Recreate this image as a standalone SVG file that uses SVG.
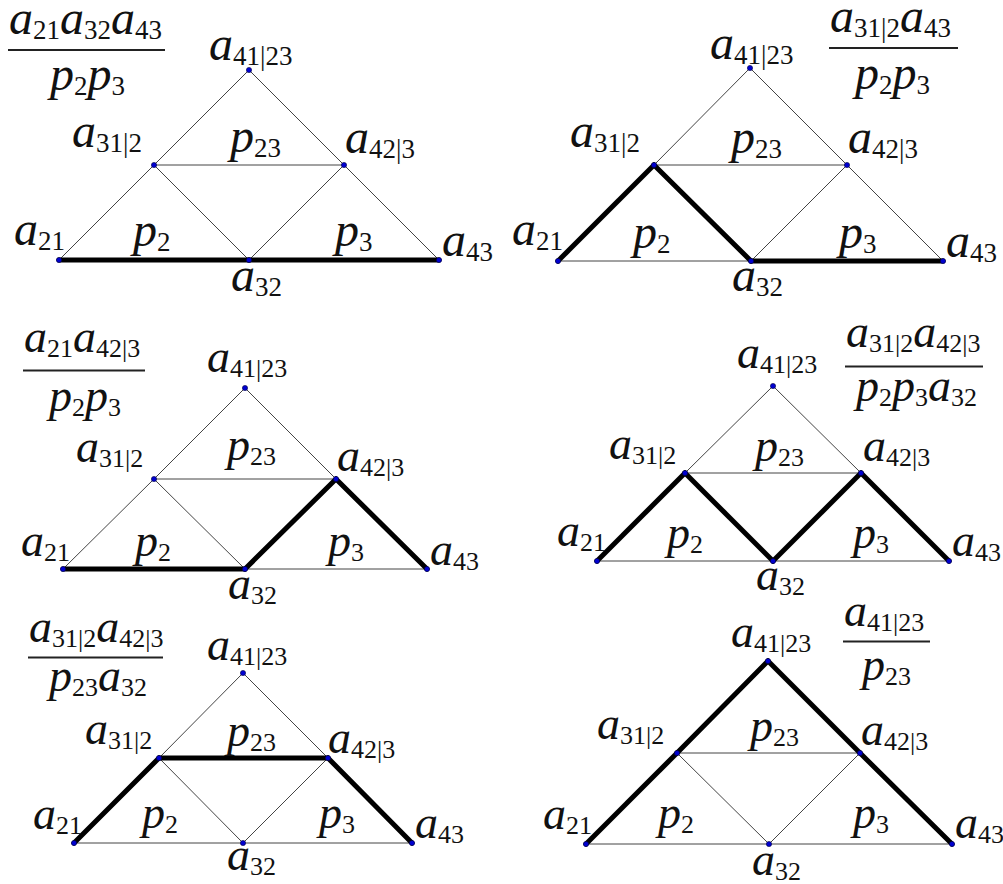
<svg xmlns="http://www.w3.org/2000/svg" width="1003" height="884" viewBox="0 0 1003 884">
<style>
text{font-family:"Liberation Serif","Times New Roman",serif;fill:#111}
.i{font-style:italic;font-size:48px}
.s{font-size:27px}
.sm .i{font-size:46px}
.sm .s{font-size:26px}
.thin{stroke:#444;stroke-width:1;fill:none}
.thick{stroke:#000;stroke-width:5;fill:none;stroke-linecap:round}
.bar{stroke:#222;stroke-width:2}
.dot{fill:#0000d0;stroke:#000040;stroke-width:0.6}
</style>
<rect width="1003" height="884" fill="#fff"/>

<!-- Panel 1 -->
<g id="panel1">
<g id="p1-connectors">
<line class="thin" x1="59" y1="260" x2="154" y2="165"/>
<line class="thin" x1="154" y1="165" x2="249" y2="70"/>
<line class="thin" x1="249" y1="70" x2="344" y2="165"/>
<line class="thin" x1="344" y1="165" x2="439" y2="260"/>
<line class="thin" x1="154" y1="165" x2="344" y2="165"/>
<line class="thin" x1="154" y1="165" x2="249" y2="260"/>
<line class="thin" x1="249" y1="260" x2="344" y2="165"/>
<line class="thick" x1="59" y1="260" x2="249" y2="260"/>
<line class="thick" x1="249" y1="260" x2="439" y2="260"/>
</g>
<g id="p1-formula">
<text x="9" y="34"><tspan class="i">a</tspan><tspan class="s" dy="5">21</tspan><tspan class="i" dy="-5">a</tspan><tspan class="s" dy="5">32</tspan><tspan class="i" dy="-5">a</tspan><tspan class="s" dy="5">43</tspan></text>
<line class="bar" x1="8" y1="50" x2="165" y2="50"/>
<text x="50" y="90"><tspan class="i">p</tspan><tspan class="s" dy="5">2</tspan><tspan class="i" dy="-5">p</tspan><tspan class="s" dy="5">3</tspan></text>
</g>
<g id="p1-a41"><circle class="dot" cx="249" cy="70" r="2.6"/><text x="209" y="60"><tspan class="i">a</tspan><tspan class="s" dy="5">41|23</tspan></text></g>
<g id="p1-a31"><circle class="dot" cx="154" cy="165" r="2.6"/><text x="72" y="147"><tspan class="i">a</tspan><tspan class="s" dy="5">31|2</tspan></text></g>
<g id="p1-a42"><circle class="dot" cx="344" cy="165" r="2.6"/><text x="345" y="153"><tspan class="i">a</tspan><tspan class="s" dy="5">42|3</tspan></text></g>
<g id="p1-a21"><circle class="dot" cx="59" cy="260" r="2.6"/><text x="14" y="245"><tspan class="i">a</tspan><tspan class="s" dy="5">21</tspan></text></g>
<g id="p1-a32"><circle class="dot" cx="249" cy="260" r="2.6"/><text x="231" y="291"><tspan class="i">a</tspan><tspan class="s" dy="5">32</tspan></text></g>
<g id="p1-a43"><circle class="dot" cx="439" cy="260" r="2.6"/><text x="442" y="256"><tspan class="i">a</tspan><tspan class="s" dy="5">43</tspan></text></g>
<g id="p1-p23"><text x="230" y="152"><tspan class="i">p</tspan><tspan class="s" dy="5">23</tspan></text></g>
<g id="p1-p2"><text x="133" y="246"><tspan class="i">p</tspan><tspan class="s" dy="5">2</tspan></text></g>
<g id="p1-p3"><text x="335" y="246"><tspan class="i">p</tspan><tspan class="s" dy="5">3</tspan></text></g>
</g>

<!-- Panel 2 -->
<g id="panel2">
<g id="p2-connectors">
<line class="thin" x1="654" y1="165" x2="750" y2="68"/>
<line class="thin" x1="750" y1="68" x2="847" y2="165"/>
<line class="thin" x1="847" y1="165" x2="943" y2="261"/>
<line class="thin" x1="654" y1="165" x2="847" y2="165"/>
<line class="thin" x1="558" y1="261" x2="751" y2="261"/>
<line class="thin" x1="751" y1="261" x2="847" y2="165"/>
<line class="thick" x1="558" y1="261" x2="654" y2="165"/>
<line class="thick" x1="654" y1="165" x2="751" y2="261"/>
<line class="thick" x1="751" y1="261" x2="943" y2="261"/>
</g>
<g id="p2-formula">
<text x="830" y="32"><tspan class="i">a</tspan><tspan class="s" dy="5">31|2</tspan><tspan class="i" dy="-5">a</tspan><tspan class="s" dy="5">43</tspan></text>
<line class="bar" x1="829" y1="48" x2="958" y2="48"/>
<text x="855" y="89"><tspan class="i">p</tspan><tspan class="s" dy="5">2</tspan><tspan class="i" dy="-5">p</tspan><tspan class="s" dy="5">3</tspan></text>
</g>
<g id="p2-a41"><circle class="dot" cx="750" cy="68" r="2.6"/><text x="710" y="59"><tspan class="i">a</tspan><tspan class="s" dy="5">41|23</tspan></text></g>
<g id="p2-a31"><circle class="dot" cx="654" cy="165" r="2.6"/><text x="570" y="147"><tspan class="i">a</tspan><tspan class="s" dy="5">31|2</tspan></text></g>
<g id="p2-a42"><circle class="dot" cx="847" cy="165" r="2.6"/><text x="848" y="153"><tspan class="i">a</tspan><tspan class="s" dy="5">42|3</tspan></text></g>
<g id="p2-a21"><circle class="dot" cx="558" cy="261" r="2.6"/><text x="512" y="245"><tspan class="i">a</tspan><tspan class="s" dy="5">21</tspan></text></g>
<g id="p2-a32"><circle class="dot" cx="751" cy="261" r="2.6"/><text x="732" y="291"><tspan class="i">a</tspan><tspan class="s" dy="5">32</tspan></text></g>
<g id="p2-a43"><circle class="dot" cx="943" cy="261" r="2.6"/><text x="946" y="257"><tspan class="i">a</tspan><tspan class="s" dy="5">43</tspan></text></g>
<g id="p2-p23"><text x="731" y="153"><tspan class="i">p</tspan><tspan class="s" dy="5">23</tspan></text></g>
<g id="p2-p2"><text x="633" y="248"><tspan class="i">p</tspan><tspan class="s" dy="5">2</tspan></text></g>
<g id="p2-p3"><text x="839" y="248"><tspan class="i">p</tspan><tspan class="s" dy="5">3</tspan></text></g>
</g>

<!-- Panel 3 -->
<g id="panel3" class="sm">
<g id="p3-connectors">
<line class="thin" x1="63" y1="569" x2="154" y2="479"/>
<line class="thin" x1="154" y1="479" x2="245" y2="388"/>
<line class="thin" x1="245" y1="388" x2="336" y2="479"/>
<line class="thin" x1="154" y1="479" x2="336" y2="479"/>
<line class="thin" x1="154" y1="479" x2="245" y2="569"/>
<line class="thin" x1="245" y1="569" x2="427" y2="569"/>
<line class="thick" x1="63" y1="569" x2="245" y2="569"/>
<line class="thick" x1="245" y1="569" x2="336" y2="479"/>
<line class="thick" x1="336" y1="479" x2="427" y2="569"/>
</g>
<g id="p3-formula">
<text x="24" y="352"><tspan class="i">a</tspan><tspan class="s" dy="5">21</tspan><tspan class="i" dy="-5">a</tspan><tspan class="s" dy="5">42|3</tspan></text>
<line class="bar" x1="23" y1="370.5" x2="145" y2="370.5"/>
<text x="49" y="411"><tspan class="i">p</tspan><tspan class="s" dy="5">2</tspan><tspan class="i" dy="-5">p</tspan><tspan class="s" dy="5">3</tspan></text>
</g>
<g id="p3-a41"><circle class="dot" cx="245" cy="388" r="2.6"/><text x="207" y="372"><tspan class="i">a</tspan><tspan class="s" dy="5">41|23</tspan></text></g>
<g id="p3-a31"><circle class="dot" cx="154" cy="479" r="2.6"/><text x="76" y="462"><tspan class="i">a</tspan><tspan class="s" dy="5">31|2</tspan></text></g>
<g id="p3-a42"><circle class="dot" cx="336" cy="479" r="2.6"/><text x="337" y="471"><tspan class="i">a</tspan><tspan class="s" dy="5">42|3</tspan></text></g>
<g id="p3-a21"><circle class="dot" cx="63" cy="569" r="2.6"/><text x="21" y="556"><tspan class="i">a</tspan><tspan class="s" dy="5">21</tspan></text></g>
<g id="p3-a32"><circle class="dot" cx="245" cy="569" r="2.6"/><text x="228" y="599"><tspan class="i">a</tspan><tspan class="s" dy="5">32</tspan></text></g>
<g id="p3-a43"><circle class="dot" cx="427" cy="569" r="2.6"/><text x="430" y="565"><tspan class="i">a</tspan><tspan class="s" dy="5">43</tspan></text></g>
<g id="p3-p23"><text x="227" y="460"><tspan class="i">p</tspan><tspan class="s" dy="5">23</tspan></text></g>
<g id="p3-p2"><text x="135" y="556"><tspan class="i">p</tspan><tspan class="s" dy="5">2</tspan></text></g>
<g id="p3-p3"><text x="328" y="556"><tspan class="i">p</tspan><tspan class="s" dy="5">3</tspan></text></g>
</g>

<!-- Panel 4 -->
<g id="panel4" class="sm">
<g id="p4-connectors">
<line class="thin" x1="685" y1="473" x2="773" y2="386"/>
<line class="thin" x1="773" y1="386" x2="861" y2="473"/>
<line class="thin" x1="685" y1="473" x2="861" y2="473"/>
<line class="thin" x1="597" y1="561" x2="949" y2="561"/>
<line class="thick" x1="597" y1="561" x2="685" y2="473"/>
<line class="thick" x1="685" y1="473" x2="773" y2="561"/>
<line class="thick" x1="773" y1="561" x2="861" y2="473"/>
<line class="thick" x1="861" y1="473" x2="949" y2="561"/>
</g>
<g id="p4-formula">
<text x="846" y="347"><tspan class="i">a</tspan><tspan class="s" dy="5">31|2</tspan><tspan class="i" dy="-5">a</tspan><tspan class="s" dy="5">42|3</tspan></text>
<line class="bar" x1="845" y1="366.5" x2="983" y2="366.5"/>
<text x="856" y="401"><tspan class="i">p</tspan><tspan class="s" dy="5">2</tspan><tspan class="i" dy="-5">p</tspan><tspan class="s" dy="5">3</tspan><tspan class="i" dy="-5">a</tspan><tspan class="s" dy="5">32</tspan></text>
</g>
<g id="p4-a41"><circle class="dot" cx="773" cy="386" r="2.6"/><text x="737" y="368"><tspan class="i">a</tspan><tspan class="s" dy="5">41|23</tspan></text></g>
<g id="p4-a31"><circle class="dot" cx="685" cy="473" r="2.6"/><text x="609" y="459"><tspan class="i">a</tspan><tspan class="s" dy="5">31|2</tspan></text></g>
<g id="p4-a42"><circle class="dot" cx="861" cy="473" r="2.6"/><text x="863" y="461"><tspan class="i">a</tspan><tspan class="s" dy="5">42|3</tspan></text></g>
<g id="p4-a21"><circle class="dot" cx="597" cy="561" r="2.6"/><text x="557" y="546"><tspan class="i">a</tspan><tspan class="s" dy="5">21</tspan></text></g>
<g id="p4-a32"><circle class="dot" cx="773" cy="561" r="2.6"/><text x="756" y="590"><tspan class="i">a</tspan><tspan class="s" dy="5">32</tspan></text></g>
<g id="p4-a43"><circle class="dot" cx="949" cy="561" r="2.6"/><text x="952" y="556"><tspan class="i">a</tspan><tspan class="s" dy="5">43</tspan></text></g>
<g id="p4-p23"><text x="755" y="461"><tspan class="i">p</tspan><tspan class="s" dy="5">23</tspan></text></g>
<g id="p4-p2"><text x="667" y="548"><tspan class="i">p</tspan><tspan class="s" dy="5">2</tspan></text></g>
<g id="p4-p3"><text x="853" y="548"><tspan class="i">p</tspan><tspan class="s" dy="5">3</tspan></text></g>
</g>

<!-- Panel 5 -->
<g id="panel5" class="sm">
<g id="p5-connectors">
<line class="thin" x1="159" y1="758" x2="243" y2="673"/>
<line class="thin" x1="243" y1="673" x2="328" y2="758"/>
<line class="thin" x1="74" y1="843" x2="412" y2="843"/>
<line class="thin" x1="159" y1="758" x2="243" y2="843"/>
<line class="thin" x1="243" y1="843" x2="328" y2="758"/>
<line class="thick" x1="74" y1="843" x2="159" y2="758"/>
<line class="thick" x1="159" y1="758" x2="328" y2="758"/>
<line class="thick" x1="328" y1="758" x2="412" y2="843"/>
</g>
<g id="p5-formula">
<text x="29" y="642"><tspan class="i">a</tspan><tspan class="s" dy="5">31|2</tspan><tspan class="i" dy="-5">a</tspan><tspan class="s" dy="5">42|3</tspan></text>
<line class="bar" x1="28" y1="657.5" x2="163" y2="657.5"/>
<text x="49" y="691"><tspan class="i">p</tspan><tspan class="s" dy="5">23</tspan><tspan class="i" dy="-5">a</tspan><tspan class="s" dy="5">32</tspan></text>
</g>
<g id="p5-a41"><circle class="dot" cx="243" cy="673" r="2.6"/><text x="207" y="660"><tspan class="i">a</tspan><tspan class="s" dy="5">41|23</tspan></text></g>
<g id="p5-a31"><circle class="dot" cx="159" cy="758" r="2.6"/><text x="85" y="744"><tspan class="i">a</tspan><tspan class="s" dy="5">31|2</tspan></text></g>
<g id="p5-a42"><circle class="dot" cx="328" cy="758" r="2.6"/><text x="328" y="753"><tspan class="i">a</tspan><tspan class="s" dy="5">42|3</tspan></text></g>
<g id="p5-a21"><circle class="dot" cx="74" cy="843" r="2.6"/><text x="33" y="829"><tspan class="i">a</tspan><tspan class="s" dy="5">21</tspan></text></g>
<g id="p5-a32"><circle class="dot" cx="243" cy="843" r="2.6"/><text x="227" y="870"><tspan class="i">a</tspan><tspan class="s" dy="5">32</tspan></text></g>
<g id="p5-a43"><circle class="dot" cx="412" cy="843" r="2.6"/><text x="415" y="838"><tspan class="i">a</tspan><tspan class="s" dy="5">43</tspan></text></g>
<g id="p5-p23"><text x="227" y="746"><tspan class="i">p</tspan><tspan class="s" dy="5">23</tspan></text></g>
<g id="p5-p2"><text x="142" y="828"><tspan class="i">p</tspan><tspan class="s" dy="5">2</tspan></text></g>
<g id="p5-p3"><text x="319" y="828"><tspan class="i">p</tspan><tspan class="s" dy="5">3</tspan></text></g>
</g>

<!-- Panel 6 -->
<g id="panel6" class="sm">
<g id="p6-connectors">
<line class="thin" x1="677" y1="753" x2="860" y2="753"/>
<line class="thin" x1="586" y1="844" x2="952" y2="844"/>
<line class="thin" x1="677" y1="753" x2="769" y2="844"/>
<line class="thin" x1="769" y1="844" x2="860" y2="753"/>
<line class="thick" x1="586" y1="844" x2="677" y2="753"/>
<line class="thick" x1="677" y1="753" x2="768" y2="661"/>
<line class="thick" x1="768" y1="661" x2="860" y2="753"/>
<line class="thick" x1="860" y1="753" x2="952" y2="844"/>
</g>
<g id="p6-formula">
<text x="844" y="626"><tspan class="i">a</tspan><tspan class="s" dy="5">41|23</tspan></text>
<line class="bar" x1="843" y1="641.5" x2="930" y2="641.5"/>
<text x="862" y="680"><tspan class="i">p</tspan><tspan class="s" dy="5">23</tspan></text>
</g>
<g id="p6-a41"><circle class="dot" cx="768" cy="661" r="2.6"/><text x="731" y="647"><tspan class="i">a</tspan><tspan class="s" dy="5">41|23</tspan></text></g>
<g id="p6-a31"><circle class="dot" cx="677" cy="753" r="2.6"/><text x="597" y="739"><tspan class="i">a</tspan><tspan class="s" dy="5">31|2</tspan></text></g>
<g id="p6-a42"><circle class="dot" cx="860" cy="753" r="2.6"/><text x="861" y="745"><tspan class="i">a</tspan><tspan class="s" dy="5">42|3</tspan></text></g>
<g id="p6-a21"><circle class="dot" cx="586" cy="844" r="2.6"/><text x="543" y="829"><tspan class="i">a</tspan><tspan class="s" dy="5">21</tspan></text></g>
<g id="p6-a32"><circle class="dot" cx="769" cy="844" r="2.6"/><text x="752" y="875"><tspan class="i">a</tspan><tspan class="s" dy="5">32</tspan></text></g>
<g id="p6-a43"><circle class="dot" cx="952" cy="844" r="2.6"/><text x="955" y="838"><tspan class="i">a</tspan><tspan class="s" dy="5">43</tspan></text></g>
<g id="p6-p23"><text x="750" y="741"><tspan class="i">p</tspan><tspan class="s" dy="5">23</tspan></text></g>
<g id="p6-p2"><text x="658" y="828"><tspan class="i">p</tspan><tspan class="s" dy="5">2</tspan></text></g>
<g id="p6-p3"><text x="853" y="828"><tspan class="i">p</tspan><tspan class="s" dy="5">3</tspan></text></g>
</g>
</svg>
